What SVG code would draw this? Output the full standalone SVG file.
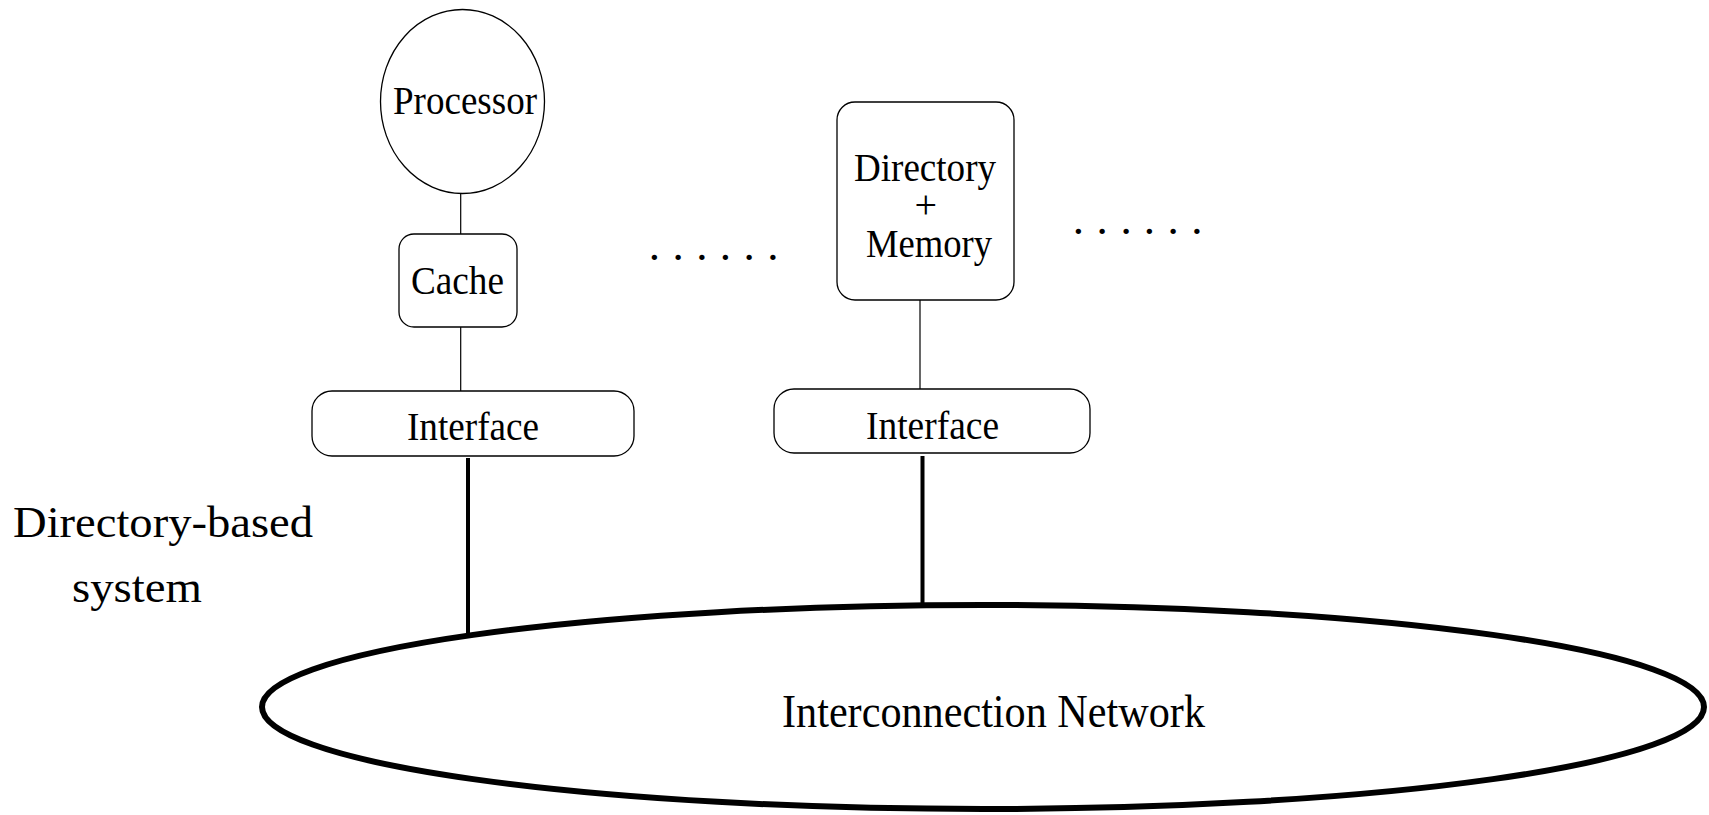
<svg xmlns="http://www.w3.org/2000/svg" width="1709" height="815" viewBox="0 0 1709 815">
<style>
  .shape { fill: #fff; stroke: #000; stroke-width: 1.3; }
  .thin { stroke: #000; stroke-width: 1.2; fill: none; }
  .thick { stroke: #000; stroke-width: 4; fill: none; }
  .lbl { font-family: "Liberation Serif", "Times New Roman", serif; font-size: 40px; fill: #000; }
  .big { font-family: "Liberation Serif", "Times New Roman", serif; font-size: 45px; fill: #000; }
</style>
<rect width="1709" height="815" fill="#fff"/>
<g id="connectors">
  <line class="thin" x1="460.7" y1="194" x2="460.7" y2="234"/>
  <line class="thin" x1="460.7" y1="327" x2="460.7" y2="391"/>
  <line class="thin" x1="920" y1="300" x2="920" y2="389"/>
  <line class="thick" x1="468" y1="458" x2="468" y2="634"/>
  <line class="thick" x1="922.5" y1="456" x2="922.5" y2="607"/>
</g>
<g id="processor">
  <ellipse class="shape" cx="462.5" cy="101.5" rx="82" ry="92"/>
  <text class="lbl" x="393" y="114" textLength="144" lengthAdjust="spacingAndGlyphs">Processor</text>
</g>
<g id="cache">
  <rect class="shape" x="399" y="234" width="118" height="93" rx="15" ry="15"/>
  <text class="lbl" x="411" y="294" textLength="93" lengthAdjust="spacingAndGlyphs">Cache</text>
</g>
<g id="interface1">
  <rect class="shape" x="312" y="391" width="322" height="65" rx="20" ry="20"/>
  <text class="lbl" x="407" y="440" textLength="132" lengthAdjust="spacingAndGlyphs">Interface</text>
</g>
<g id="dirmem">
  <rect class="shape" x="837" y="102" width="177" height="198" rx="18" ry="18"/>
  <text class="lbl" x="854" y="181" textLength="142" lengthAdjust="spacingAndGlyphs">Directory</text>
  <text class="lbl" x="925.7" y="218" text-anchor="middle">+</text>
  <text class="lbl" x="866" y="257" textLength="126" lengthAdjust="spacingAndGlyphs">Memory</text>
</g>
<g id="interface2">
  <rect class="shape" x="774" y="389" width="316" height="64" rx="20" ry="20"/>
  <text class="lbl" x="866" y="439" textLength="133" lengthAdjust="spacingAndGlyphs">Interface</text>
</g>
<g id="dots1">
  <text class="big" x="648.8 672.5 696.2 719.8 743.5 767.2" y="260">......</text>
</g>
<g id="dots2">
  <text class="big" x="1072.8 1096.5 1120.5 1143.8 1167.5 1191.2" y="233.5">......</text>
</g>
<g id="caption">
  <text class="big" x="13" y="537" textLength="300" lengthAdjust="spacingAndGlyphs">Directory-based</text>
  <text class="big" x="72" y="602" textLength="130" lengthAdjust="spacingAndGlyphs">system</text>
</g>
<g id="network">
  <ellipse cx="983" cy="707" rx="721" ry="102" fill="#fff" stroke="#000" stroke-width="6"/>
  <text class="big" x="782" y="727" font-size="46" textLength="423" lengthAdjust="spacingAndGlyphs" style="font-size:46px">Interconnection Network</text>
</g>
</svg>
